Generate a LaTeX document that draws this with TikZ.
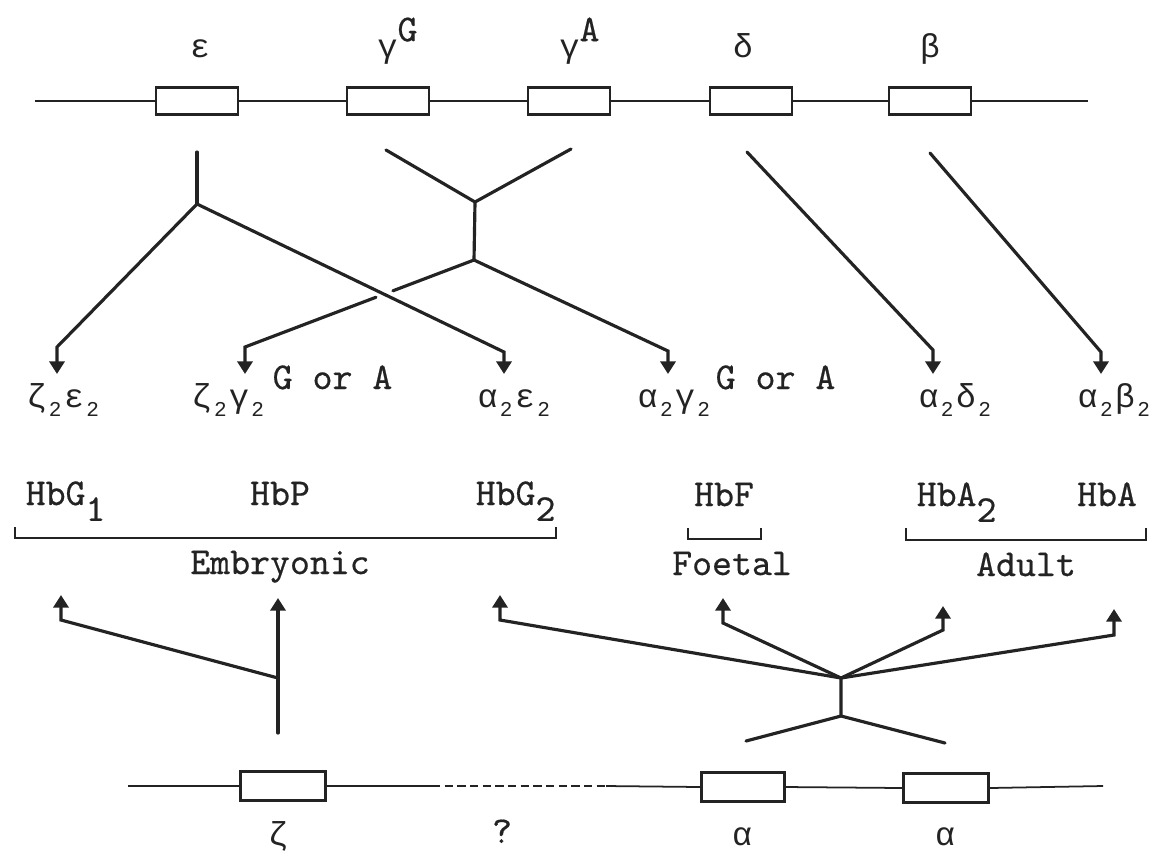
\documentclass[tikz,border=0pt]{standalone}
\usepackage{fontspec}
\setmainfont{Latin Modern Mono}[FakeBold=0.5]
\newfontfamily\grk{Liberation Mono}
\usetikzlibrary{arrows.meta,calc}
\definecolor{ink}{RGB}{35,35,35}
% lowered small digit used in chain formulas
\newcommand\dsub[1]{\kern0.7pt\raisebox{-2.6pt}{\grk\fontsize{6}{7}\selectfont #1}\kern0.7pt}
% lowered full-size digit used in haemoglobin names
\newcommand\bsub[1]{\raisebox{-4.5pt}{#1}}
\begin{document}
\begin{tikzpicture}[x=0.01cm,y=-0.01cm,
  txt/.style={inner sep=0pt, text=ink, font=\fontsize{10.8}{12}\selectfont, anchor=base},
  gtxt/.style={inner sep=0pt, text=ink, font=\grk\fontsize{9.4}{11}\selectfont, anchor=base},
  exon/.style={draw=ink, line width=0.65pt, fill=white, minimum width=0.82cm,
               minimum height=0.27cm, inner sep=0pt},
  dna/.style={draw=ink, line width=0.5pt},
  branch/.style={draw=ink, line width=0.9pt, line cap=round},
  arr/.style={branch, -{Triangle[length=3.6pt,width=4.3pt]}},
  brk/.style={draw=ink, line width=0.65pt}]
\useasboundingbox (0,0) rectangle (1152,866);

% ---------- beta-like gene cluster ----------
\coordinate (tl) at (35,101);
\coordinate (tr) at (1088,101);
\node[exon] (xe)  at (197,101) {};
\node[exon] (xgg) at (388,101) {};
\node[exon] (xga) at (569,101) {};
\node[exon] (xd)  at (751,101) {};
\node[exon] (xb)  at (930,101) {};
\draw[dna] (tl) -- (xe.west) (xe.east) -- (xgg.west) (xgg.east) -- (xga.west)
           (xga.east) -- (xd.west) (xd.east) -- (xb.west) (xb.east) -- (tr);

\node[gtxt] (le)  at (200,57) {ε};
\node[gtxt, anchor=base west] (lgg) at (377,57) {γ\raisebox{4.5pt}{\rmfamily\fontsize{10.8}{12}\selectfont G}};
\node[gtxt, anchor=base west] (lga) at (559,57) {γ\raisebox{4.5pt}{\rmfamily\fontsize{10.8}{12}\selectfont A}};
\node[gtxt] (ld)  at (743,57) {δ};
\node[gtxt] (lb)  at (930,57) {β};

% ---------- branches to the tetramers ----------
\coordinate (e0) at (197,152);  \coordinate (ej) at (197,204);
\coordinate (ea) at (57,347);   \coordinate (eat) at (57,374);
\coordinate (eb) at (504,352);  \coordinate (ebt) at (504,374);
\draw[branch] (e0) -- (ej);
\draw[arr] (ej) -- (ea) -- (eat);
\draw[arr] (ej) -- (eb) -- (ebt);

\coordinate (gl) at (386,150);  \coordinate (gr) at (571,149);
\coordinate (gj) at (475,202);  \coordinate (gk) at (474,260);
\coordinate (ga) at (245,347);  \coordinate (gat) at (245,374);
\coordinate (gb) at (668,351);  \coordinate (gbt) at (668,374);
\draw[branch] (gl) -- (gj) -- (gr) (gj) -- (gk);
\draw[branch] (gk) -- ($(gk)!0.354!(ga)$);
\draw[arr] ($(gk)!0.428!(ga)$) -- (ga) -- (gat);
\draw[arr] (gk) -- (gb) -- (gbt);

\coordinate (d0) at (747,152);  \coordinate (d1) at (933,350);  \coordinate (dt) at (933,374);
\draw[arr] (d0) -- (d1) -- (dt);
\coordinate (b0) at (930,153);  \coordinate (b1) at (1101,352); \coordinate (bt) at (1101,374);
\draw[arr] (b0) -- (b1) -- (bt);

% ---------- tetramers ----------
\node[gtxt] (t1) at (64,407) {ζ\dsub{2}ε\dsub{2}};
\node[gtxt, anchor=base west] (t2) at (191,407) {ζ\dsub{2}γ\dsub{2}};
\node[txt, anchor=base west] (t2s) at (272,389) {G or A};
\node[gtxt] (t3) at (515,407) {α\dsub{2}ε\dsub{2}};
\node[gtxt, anchor=base west] (t4) at (637,407) {α\dsub{2}γ\dsub{2}};
\node[txt, anchor=base west] (t4s) at (715,389) {G or A};
\node[gtxt] (t5) at (956,407) {α\dsub{2}δ\dsub{2}};
\node[gtxt, anchor=base west] (t6) at (1077,407) {α\dsub{2}β\dsub{2}};

% ---------- haemoglobins ----------
\node[txt, anchor=base west] (hg1) at (25,505) {HbG\bsub{1}};
\node[txt] (hp)  at (280,505) {HbP};
\node[txt, anchor=base west] (hg2) at (475,505) {HbG\bsub{2}};
\node[txt] (hf)  at (724,506) {HbF};
\node[txt, anchor=base west] (ha2) at (916,506) {HbA\bsub{2}};
\node[txt] (ha)  at (1107,506) {HbA};

\draw[brk] (15,527) -- (15,538) -- (556,538) -- (556,527);
\draw[brk] (688,528) -- (688,539) -- (761,539) -- (761,528);
\draw[brk] (906,528) -- (906,540) -- (1146,540) -- (1146,528);

\node[txt] (emb) at (280,574) {Embryonic};
\node[txt] (foe) at (732,575) {Foetal};
\node[txt] (adu) at (1026,576) {Adult};

% ---------- alpha-like gene cluster and its branches ----------
\coordinate (z0) at (278,733);  \coordinate (zt) at (278,598);
\coordinate (zj) at (278,678);
\coordinate (z1) at (61,620);   \coordinate (z1t) at (61,595);
\draw[arr] (z0) -- (zt);
\draw[arr] (zj) -- (z1) -- (z1t);

\coordinate (aj) at (841,678);  \coordinate (a0) at (841,716);
\coordinate (al) at (746,741);  \coordinate (ar) at (945,743);
\draw[branch] (aj) -- (a0) (al) -- (a0) -- (ar);
\coordinate (h1) at (500,620);  \coordinate (h1t) at (500,595);
\coordinate (h2) at (723,623);  \coordinate (h2t) at (723,598);
\coordinate (h3) at (943,630);  \coordinate (h3t) at (943,606);
\coordinate (h4) at (1114,635); \coordinate (h4t) at (1114,609);
\draw[arr] (aj) -- (h1) -- (h1t);
\draw[arr] (aj) -- (h2) -- (h2t);
\draw[arr] (aj) -- (h3) -- (h3t);
\draw[arr] (aj) -- (h4) -- (h4t);

\coordinate (bl) at (128,786);
\coordinate (br) at (1103,786);
\coordinate (ds) at (432,786);
\coordinate (de) at (606,786);
\node[exon, minimum width=0.85cm, minimum height=0.29cm] (xz)  at (283,786) {};
\node[exon, minimum width=0.83cm, minimum height=0.29cm] (xa1) at (743,787) {};
\node[exon, minimum width=0.85cm, minimum height=0.29cm] (xa2) at (946,788) {};
\draw[dna] (bl) -- (xz.west) (xz.east) -- (ds) (de) -- (xa1.west)
           (xa1.east) -- (xa2.west) (xa2.east) -- (br);
\draw[dna, line width=0.6pt, dash pattern=on 2.4pt off 1.2pt] (ds) -- (de);

\node[gtxt] (lz)  at (278,845) {ζ};
\node[txt]  (lq)  at (502,843) {?};
\node[gtxt] (la1) at (742,845) {α};
\node[gtxt] (la2) at (945,845) {α};
\end{tikzpicture}
\end{document}
